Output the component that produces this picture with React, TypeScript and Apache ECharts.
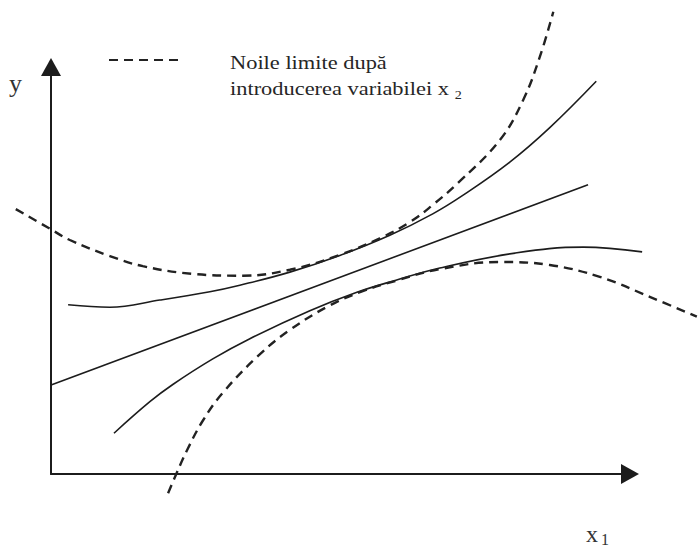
import React, { useEffect, useRef } from "react";
import * as echarts from "echarts";

// Abstract diagram units: origin at the axes' corner
const regressionLine: number[][] = [[0, 1.49], [9.13, 4.86]];

const upperBand: number[][] = [
  [0.29, 2.84], [1.0, 2.8], [1.85, 2.92], [2.7, 3.06], [3.21, 3.17], [4.06, 3.39],
  [4.91, 3.67], [5.76, 4.01], [6.49, 4.37], [7.0, 4.68], [7.8, 5.24], [8.48, 5.82], [9.27, 6.6],
];

const lowerBand: number[][] = [
  [1.07, 0.68], [1.68, 1.21], [2.07, 1.5], [2.75, 1.93], [3.38, 2.27], [4.4, 2.74],
  [5.2, 3.05], [5.85, 3.25], [6.61, 3.46], [7.89, 3.71], [9.05, 3.81], [10.05, 3.73],
];

const newUpper: number[][] = [
  [-0.6, 4.45], [-0.02, 4.12], [0.32, 3.93], [1.0, 3.66], [1.56, 3.49], [2.41, 3.36],
  [3.26, 3.33], [4.06, 3.43], [4.91, 3.68], [5.59, 3.96], [6.1, 4.23], [6.49, 4.52],
  [6.92, 4.89], [7.63, 5.61], [8.03, 6.29], [8.31, 7.01], [8.54, 7.77],
];

const newLower: number[][] = [
  [1.99, -0.33], [2.14, 0.02], [2.31, 0.39], [2.58, 0.89], [2.92, 1.36], [3.52, 1.98],
  [4.05, 2.41], [4.74, 2.83], [5.3, 3.07], [5.85, 3.24], [6.61, 3.44], [7.63, 3.56],
  [8.48, 3.51], [9.33, 3.31], [10.19, 2.97], [10.98, 2.64],
];

const legendName = "Noile limite după introducerea variabilei x2";
const legendLine1 = "Noile limite după";
const legendLine2 = "introducerea variabilei x ";
const legendSub = "2";
const yLabel = "y";
const xLabel = "x";
const xSub = "1";

const SERIF = "Liberation Serif";
const INK = "#1c1c1c";
const TEXT = "#262626";

export default function App() {
  const ref = useRef<HTMLDivElement>(null);

  useEffect(() => {
    if (!ref.current) return;
    const chart = echarts.init(ref.current, undefined, { renderer: "svg" });

    const solid = (name: string, data: number[][]) => ({
      type: "line",
      name,
      data,
      xAxisIndex: 0,
      yAxisIndex: 0,
      symbol: "none",
      smooth: 0.4,
      lineStyle: { color: INK, width: 1.6 },
      itemStyle: { color: INK },
      silent: true,
    });
    const dashed = (data: number[][]) => ({
      type: "line",
      name: legendName,
      data,
      xAxisIndex: 0,
      yAxisIndex: 0,
      symbol: "none",
      smooth: 0.4,
      lineStyle: { color: "#222", width: 2.4, type: [9, 6] },
      itemStyle: { color: "#222" },
      silent: true,
    });

    const hiddenAxis = { show: false, splitLine: { show: false } };
    const arrowAxis = {
      type: "value",
      min: 0,
      max: 10,
      axisLine: {
        show: true,
        onZero: false,
        symbol: ["none", "triangle"],
        symbolSize: [20, 18],
        lineStyle: { color: INK, width: 2 },
      },
      axisTick: { show: false },
      axisLabel: { show: false },
      splitLine: { show: false },
    };

    chart.setOption({
      animation: false,
      backgroundColor: "#ffffff",
      grid: [
        { left: 4, right: 0, top: 4, bottom: 3 },
        { left: 51, right: 68, top: 67, bottom: 74 },
      ],
      xAxis: [
        { type: "value", gridIndex: 0, min: -0.8, max: 11, ...hiddenAxis },
        { ...arrowAxis, gridIndex: 1 },
      ],
      yAxis: [
        { type: "value", gridIndex: 0, min: -1.2, max: 7.9, ...hiddenAxis },
        { ...arrowAxis, gridIndex: 1 },
      ],
      legend: {
        data: [legendName],
        left: 108,
        top: 59,
        padding: 0,
        itemWidth: 70,
        itemHeight: 2,
        selectedMode: false,
        formatter: () => "",
        textStyle: { fontSize: 1 },
      },
      graphic: [
        {
          type: "text",
          x: 230,
          y: 49,
          scaleX: 1.18,
          style: {
            text: `{t|${legendLine1}}\n{t|${legendLine2}}{s|${legendSub}}`,
            fontFamily: SERIF,
            fontSize: 19,
            lineHeight: 26,
            fill: TEXT,
            rich: {
              t: { fontFamily: SERIF, fontSize: 19, lineHeight: 26, fill: TEXT },
              s: { fontFamily: SERIF, fontSize: 12, lineHeight: 16, verticalAlign: "bottom", fill: TEXT },
            },
          },
        },
        {
          type: "text",
          x: 9,
          y: 70,
          style: { text: yLabel, fontFamily: SERIF, fontSize: 26, fill: "#333" },
        },
        {
          type: "text",
          x: 586,
          y: 546,
          style: {
            text: xLabel,
            fontFamily: SERIF,
            fontSize: 24,
            lineHeight: 24,
            verticalAlign: "bottom",
            fill: "#333",
          },
        },
        {
          type: "text",
          x: 601,
          y: 547,
          style: {
            text: xSub,
            fontFamily: SERIF,
            fontSize: 16,
            lineHeight: 16,
            verticalAlign: "bottom",
            fill: "#333",
          },
        },
      ],
      series: [
        solid("Dreapta de regresie", regressionLine),
        solid("Limita superioară", upperBand),
        solid("Limita inferioară", lowerBand),
        dashed(newUpper),
        dashed(newLower),
      ],
    });

    return () => chart.dispose();
  }, []);

  return (
    <div
      ref={ref}
      style={{ position: "fixed", left: 0, top: 0, width: 698, height: 548, background: "#fff" }}
    />
  );
}
